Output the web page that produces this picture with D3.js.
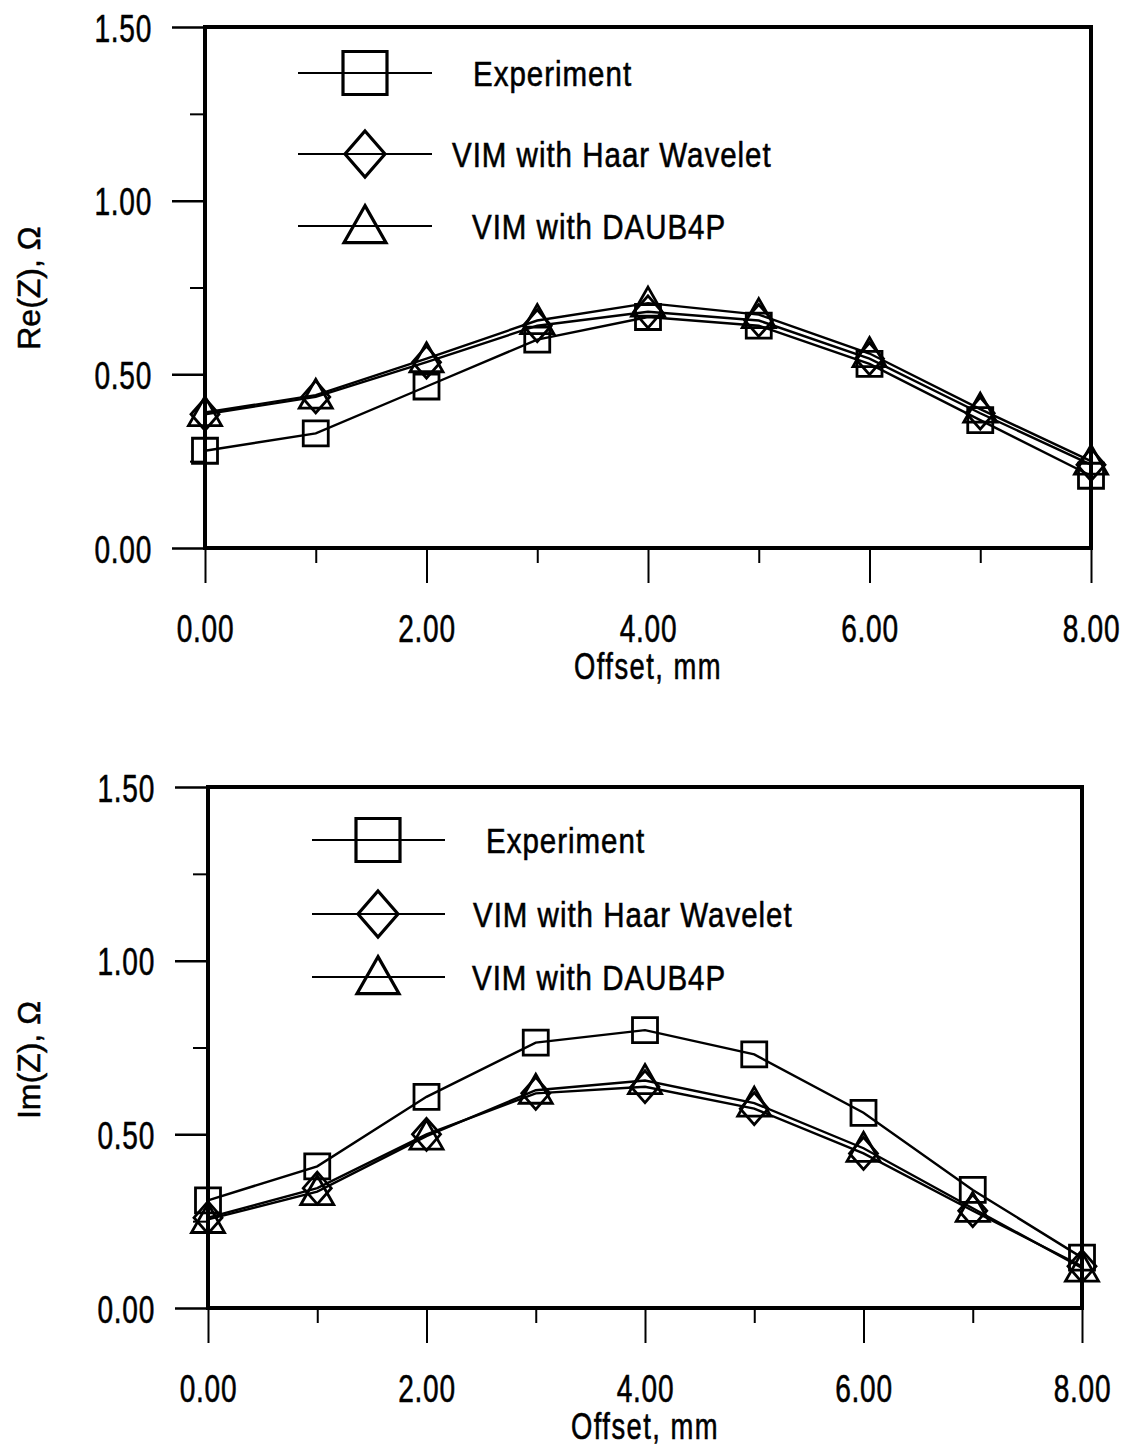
<!DOCTYPE html>
<html><head><meta charset="utf-8">
<script src="https://cdn.jsdelivr.net/npm/d3@7"></script>
<style>body{margin:0;background:#fff}svg{display:block}</style>
</head><body>
<svg id="chart" width="1124" height="1449"></svg>
<script>
// ---------- data ----------
const offsets = [0, 1, 2, 3, 4, 5, 6, 7, 8];
const seriesNames = ["Experiment", "VIM with Haar Wavelet", "VIM with DAUB4P"];
const reExperiment = [0.28, 0.33, 0.465, 0.60, 0.665, 0.64, 0.53, 0.368, 0.208];
const reHaar       = [0.385, 0.435, 0.535, 0.64, 0.68, 0.655, 0.545, 0.388, 0.24];
const reDaub       = [0.39, 0.44, 0.545, 0.655, 0.705, 0.672, 0.56, 0.40, 0.25];
const imExperiment = [0.31, 0.408, 0.608, 0.764, 0.80, 0.73, 0.562, 0.34, 0.145];
const imHaar       = [0.26, 0.345, 0.50, 0.618, 0.637, 0.574, 0.445, 0.28, 0.12];
const imDaub       = [0.255, 0.335, 0.495, 0.627, 0.655, 0.59, 0.46, 0.287, 0.115];
const xMajorTicks = [0, 2, 4, 6, 8];
const xMinorTicks = [1, 3, 5, 7];
const yMajorTicks = [0, 0.5, 1.0, 1.5];
const yMinorTicks = [0.25, 0.75, 1.25];
const xTitle = "Offset, mm";
const yTitles = ["Re(Z), \u03A9", "Im(Z), \u03A9"];

// ---------- layout ----------
const FONT = "'Liberation Sans', Arial, sans-serif";
const panels = [
  { left: 205, right: 1091, top: 27, bottom: 548, series: [reExperiment, reHaar, reDaub], ytitle: yTitles[0], ytitleY: 288,
    legend: { rows: [73, 154, 226], x1: 298, x2: 432, mx: 365, tx: [473, 452, 472] } },
  { left: 208, right: 1082, top: 787, bottom: 1308, series: [imExperiment, imHaar, imDaub], ytitle: yTitles[1], ytitleY: 1060,
    legend: { rows: [840, 914, 977], x1: 312, x2: 445, mx: 378, tx: [486, 473, 472] } }
];
const markerKinds = ["square", "diamond", "triangle"];

function markerPath(kind, w, h) {
  const p = d3.path();
  if (kind === "square") { p.rect(-w/2, -h/2, w, h); }
  else if (kind === "diamond") { p.moveTo(0, -h/2); p.lineTo(w/2, 0); p.lineTo(0, h/2); p.lineTo(-w/2, 0); p.closePath(); }
  else { p.moveTo(0, -h*0.55); p.lineTo(w/2, h*0.45); p.lineTo(-w/2, h*0.45); p.closePath(); }
  return p.toString();
}
const dataSize = { square: [25, 25], diamond: [28, 32], triangle: [33, 29] };
const legendSize = { square: [44, 43], diamond: [40, 46], triangle: [42, 37] };

const svg = d3.select("#chart");
const SX_TICK = 0.72;

panels.forEach(P => {
  const x = d3.scaleLinear().domain([0, 8]).range([P.left, P.right]);
  const y = d3.scaleLinear().domain([0, 1.5]).range([P.bottom, P.top]);
  const g = svg.append("g");

  // frame
  g.append("rect").attr("x", P.left).attr("y", P.top)
    .attr("width", P.right - P.left).attr("height", P.bottom - P.top)
    .attr("fill", "none").attr("stroke", "#000").attr("stroke-width", 4);

  // y axis major
  const yAx = g.append("g").attr("transform", `translate(${P.left},0)`)
    .call(d3.axisLeft(y).tickValues(yMajorTicks).tickSize(33).tickPadding(20).tickFormat(d3.format(".2f")));
  yAx.select(".domain").remove();
  yAx.selectAll("line").attr("stroke-width", 2.5);
  yAx.selectAll("text").attr("font-family", FONT).attr("font-size", 39).attr("fill", "#000")
    .attr("stroke", "#000").attr("stroke-width", 0.6).attr("letter-spacing", 1)
    .attr("x", -53 / SX_TICK).attr("dy", "0.36em").attr("transform", `scale(${SX_TICK},1)`);
  // y axis minor
  const yAxm = g.append("g").attr("transform", `translate(${P.left},0)`)
    .call(d3.axisLeft(y).tickValues(yMinorTicks).tickSize(15).tickFormat(""));
  yAxm.select(".domain").remove();
  yAxm.selectAll("line").attr("stroke-width", 2);

  // x axis major
  const xAx = g.append("g").attr("transform", `translate(0,${P.bottom})`)
    .call(d3.axisBottom(x).tickValues(xMajorTicks).tickSize(35).tickPadding(31).tickFormat(d3.format(".2f")));
  xAx.select(".domain").remove();
  xAx.selectAll("line").attr("stroke-width", 2);
  xAx.selectAll("text").attr("font-family", FONT).attr("font-size", 39).attr("fill", "#000")
    .attr("stroke", "#000").attr("stroke-width", 0.6).attr("letter-spacing", 1)
    .attr("transform", `scale(${SX_TICK},1)`).attr("x", 0);
  // x axis minor
  const xAxm = g.append("g").attr("transform", `translate(0,${P.bottom})`)
    .call(d3.axisBottom(x).tickValues(xMinorTicks).tickSize(15).tickFormat(""));
  xAxm.select(".domain").remove();
  xAxm.selectAll("line").attr("stroke-width", 2);

  // x title
  const cx = (P.left + P.right) / 2;
  g.append("text").attr("transform", `translate(${cx},${P.bottom + 131}) scale(0.74,1)`)
    .attr("text-anchor", "middle").attr("font-family", FONT).attr("font-size", 37)
    .attr("stroke", "#000").attr("stroke-width", 0.6)
    .attr("letter-spacing", 2).text(xTitle);
  // y title
  g.append("text").attr("transform", `translate(40,${P.ytitleY}) rotate(-90)`)
    .attr("text-anchor", "middle").attr("font-family", FONT).attr("font-size", 32)
    .attr("stroke", "#000").attr("stroke-width", 0.5).text(P.ytitle);

  // series
  const line = d3.line().x((d, i) => x(offsets[i])).y(d => y(d));
  P.series.forEach((vals, si) => {
    g.append("path").datum(vals).attr("d", line)
      .attr("fill", "none").attr("stroke", "#000").attr("stroke-width", 2.4);
  });
  P.series.forEach((vals, si) => {
    const k = markerKinds[si];
    g.selectAll(null).data(vals).enter().append("path")
      .attr("transform", (d, i) => `translate(${x(offsets[i])},${y(d)})`)
      .attr("d", markerPath(k, dataSize[k][0], dataSize[k][1]))
      .attr("fill", "none").attr("stroke", "#000").attr("stroke-width", 2.8);
  });

  // legend
  const L = P.legend;
  seriesNames.forEach((name, si) => {
    const k = markerKinds[si];
    const ry = L.rows[si];
    g.append("line").attr("x1", L.x1).attr("x2", L.x2).attr("y1", ry).attr("y2", ry)
      .attr("stroke", "#000").attr("stroke-width", 2.2);
    g.append("path").attr("transform", `translate(${L.mx},${ry})`)
      .attr("d", markerPath(k, legendSize[k][0], legendSize[k][1]))
      .attr("fill", "none").attr("stroke", "#000").attr("stroke-width", 3.2);
    g.append("text").attr("transform", `translate(${L.tx[si]},${ry + 13}) scale(0.82,1)`)
      .attr("font-family", FONT).attr("font-size", 36).attr("letter-spacing", 1.2)
      .attr("stroke", "#000").attr("stroke-width", 0.6).text(name);
  });
});
</script>
</body></html>
